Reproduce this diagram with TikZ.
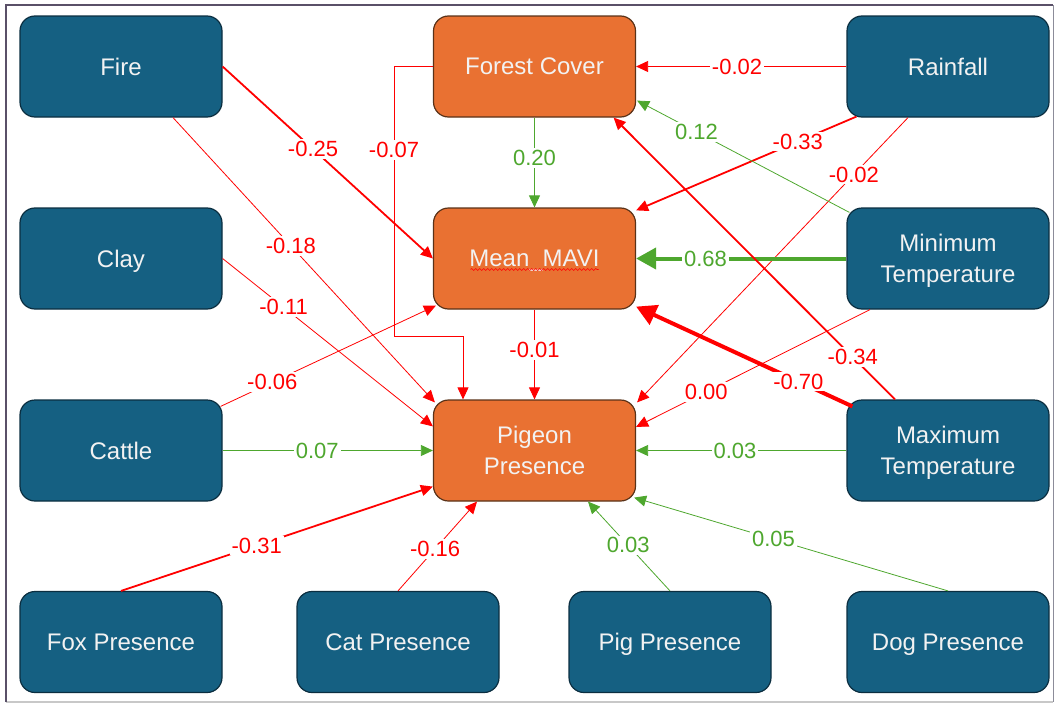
\documentclass[tikz,border=0pt]{standalone}
\usepackage{fontspec}
\setmainfont{Liberation Sans}
\usetikzlibrary{arrows.meta,calc,decorations.pathmorphing}
\definecolor{boxblue}{HTML}{156082}
\definecolor{boxblueline}{HTML}{0B2E40}
\definecolor{boxorange}{HTML}{E97132}
\definecolor{boxorangeline}{HTML}{5A3218}
\definecolor{lred}{HTML}{FF0000}
\definecolor{lgreen}{HTML}{4EA72E}
\definecolor{txt}{HTML}{F2F2F2}
\definecolor{frametop}{HTML}{5A5068}
\definecolor{frameside}{HTML}{8C8C99}
\definecolor{framebot}{HTML}{C8C8C8}
\begin{document}
\begin{tikzpicture}[x=1pt,y=-1pt,
  box/.style={draw=boxblueline, fill=boxblue, line width=1.2pt, rounded corners=15pt,
    minimum width=202pt, minimum height=101pt, text=txt,
    font=\fontsize{24}{31}\selectfont, align=center, inner sep=0pt,
    text depth=0pt},
  obox/.style={box, draw=boxorangeline, fill=boxorange},
  lbl/.style={fill=white, inner sep=2pt, font=\fontsize{22}{25}\selectfont},
  rl/.style={lbl, text=lred},
  gl/.style={lbl, text=lgreen},
  tip/.style={-{Triangle[length=12pt,width=11pt]}},
  bigtip/.style={-{Triangle[length=20pt,width=21pt]}},
  rt/.style={tip, draw=lred, line width=0.8pt},
  rm/.style={tip, draw=lred, line width=1.8pt},
  rk/.style={bigtip, draw=lred, line width=4pt},
  gt/.style={tip, draw=lgreen, line width=0.8pt},
  gk/.style={bigtip, draw=lgreen, line width=4pt}
]
\useasboundingbox (0,0) rectangle (1058,704);
% frame
\draw[framebot, line width=1.5pt] (6,702) -- (1053,702);
\draw[frameside, line width=1pt] (1053,5) -- (1053,702);
\draw[frametop, line width=1.5pt] (6,702) -- (6,5) -- (1053,5);

% nodes
\node[box] (fire) at (121,66.5) {Fire};
\node[box] (clay) at (121,258.5) {Clay};
\node[box] (cattle) at (121,450.5) {Cattle};
\node[box] (fox) at (121,642) {Fox Presence};
\node[box] (cat) at (398,642) {Cat Presence};
\node[box] (pig) at (670,642) {Pig Presence};
\node[box] (dog) at (948,642) {Dog Presence};
\node[box] (rain) at (948,66.5) {Rainfall};
\node[box] (mint) at (948,258.5) {Minimum\\Temperature};
\node[box] (maxt) at (948,450.5) {Maximum\\Temperature};
\node[obox] (forest) at (534.5,66.5) {Forest Cover};
\node[obox] (mavi) at (534.5,258.5) {Mean\_MAVI};
\node[obox] (pigeon) at (534.5,450.5) {Pigeon\\Presence};

% spelling squiggle under Mean_MAVI
\draw[lred, line width=0.6pt, decorate, decoration={snake, amplitude=1pt, segment length=4pt}]
  ([xshift=-64pt, yshift=-11pt]mavi.center) -- ([xshift=64pt, yshift=-11pt]mavi.center);

% connectors
\draw[rm] (fire.east) -- node[rl, pos=0.43] {-0.25} (mavi.west);
\draw[rt] ([xshift=52pt]fire.south) -- node[rl, pos=0.45] {-0.18} ([xshift=2pt,yshift=-3pt]pigeon.north west);
\draw[rt] (clay.east) -- node[rl, pos=0.29] {-0.11} ([yshift=-27pt]pigeon.north west);
\draw[rt] ([xshift=-2pt,yshift=-7pt]cattle.north east) -- node[rl, pos=0.24] {-0.06} ([xshift=3pt,yshift=4pt]mavi.south west);
\draw[gt] (cattle.east) -- node[gl, pos=0.45] {0.07} (pigeon.west);
\draw[rm] (fox.north) -- node[rl, pos=0.435] {-0.31} ([yshift=15pt]pigeon.south west);
\draw[rt] (cat.north) -- node[rl, pos=0.47] {-0.16} ([xshift=-57.5pt]pigeon.south);
\draw[gt] (pig.north) -- node[gl, pos=0.51] {0.03} ([xshift=53.5pt]pigeon.south);
\draw[gt] (dog.north) -- node[gl, pos=0.556] {0.05} ([xshift=-2pt,yshift=4pt]pigeon.south east);
\draw[gt] (forest.south) -- node[gl, pos=0.45] {0.20} (mavi.north);
\coordinate (k1) at (394,336);
\coordinate (k2) at (463,336);
\draw[rt] (forest.west) -- (k1 |- forest.west) -- node[rl, pos=0.31] {-0.07} (k1) -- (k2) -- ([xshift=-71.5pt]pigeon.north);
\draw[rt] (mavi.south) -- node[rl, pos=0.45] {-0.01} (pigeon.north);
\draw[rt] (rain.west) -- node[rl, pos=0.52] {-0.02} (forest.east);
\draw[rm] ([xshift=10pt,yshift=1pt]rain.south west) -- node[rl, pos=0.266] {-0.33} ([yshift=-3pt]mavi.north east);
\draw[rt] ([xshift=-40pt]rain.south) -- node[rl, pos=0.2] {-0.02} ([xshift=1pt,yshift=-3pt]pigeon.north east);
\draw[gt] ([xshift=3pt,yshift=-5pt]mint.north west) -- node[gl, pos=0.72] {0.12} ([xshift=1pt,yshift=17pt]forest.south east);
\draw[gk] (mint.west) -- node[gl, pos=0.67] {0.68} (mavi.east);
\draw[rt] ([xshift=-78pt]mint.south) -- node[rl, pos=0.70] {0.00} ([yshift=-27.5pt]pigeon.north east);
\draw[rk] ([xshift=6pt,yshift=-7pt]maxt.north west) -- node[rl, pos=0.25] {-0.70} ([yshift=3pt]mavi.south east);
\draw[rm] ([xshift=-53pt]maxt.north) -- node[rl, pos=0.15] {-0.34} ([xshift=-22.5pt]forest.south east);
\draw[gt] (maxt.west) -- node[gl, pos=0.53] {0.03} (pigeon.east);
\end{tikzpicture}
\end{document}
